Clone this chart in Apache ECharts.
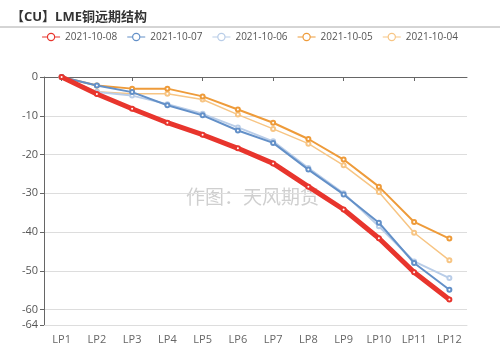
<!DOCTYPE html>
<html><head><meta charset="utf-8">
<script src="https://cdn.jsdelivr.net/npm/echarts@6/dist/echarts.min.js"></script>
<style>html,body{margin:0;padding:0;background:#fff}#c{width:500px;height:347px}</style>
</head><body><div id="c"></div>
<script>
var categories = ['LP1','LP2','LP3','LP4','LP5','LP6','LP7','LP8','LP9','LP10','LP11','LP12'];
var seriesNames = ['2021-10-08','2021-10-07','2021-10-06','2021-10-05','2021-10-04'];
var s1008 = [0, -4.4, -8.2, -11.8, -14.9, -18.4, -22.3, -28.3, -34.2, -41.6, -50.4, -57.4];
var s1007 = [0, -2.2, -3.9, -7.3, -9.9, -13.8, -17.0, -23.9, -30.3, -37.6, -48.0, -54.9];
var s1006 = [0, -3.9, -4.8, -7.0, -9.5, -13.0, -16.6, -23.5, -30.0, -38.5, -47.6, -51.9];
var s1005 = [0, -2.2, -3.0, -3.0, -5.0, -8.4, -11.8, -16.0, -21.3, -28.3, -37.4, -41.7];
var s1004 = [0, -3.8, -4.3, -4.3, -5.8, -9.7, -13.4, -17.2, -22.8, -29.7, -40.2, -47.3];
var yMin = -64, yMax = 0;

var colors = ['#e8352d','#6390c8','#b9cde8','#ee9b3a','#f7c584'];
var widths = [5, 2, 2, 2, 1.5];
var dataSets = [s1008, s1007, s1006, s1005, s1004];
var font = "'Open Sans','Noto Sans CJK SC',sans-serif";
var legendIcon = 'path://M0,4.4H5.6V5.6H0Z M12.4,4.4H18V5.6H12.4Z M9,0.8A4.2,4.2 0 1,1 8.99,0.8Z M9,2A3,3 0 1,0 9.01,2Z';

var series = dataSets.map(function(d, i){
  return {
    name: seriesNames[i], type: 'line', data: d, xAxisIndex: 0,
    symbol: 'emptyCircle', symbolSize: 4, showSymbol: true,
    lineStyle: {color: colors[i], width: widths[i]},
    itemStyle: {color: colors[i], borderWidth: 1},
    z: 10 - i
  };
});

var chart = echarts.init(document.getElementById('c'), null, {renderer:'canvas'});
chart.setOption({
  animation: false,
  color: colors,
  textStyle: {fontFamily: font},
  title: {text: '【CU】LME铜远期结构', left: 6, top: 6,
    textStyle: {fontSize: 13, fontWeight: 'bold', color: '#333', fontFamily: font}},
  graphic: [
    {type: 'line', shape: {x1: 0, y1: 27, x2: 500, y2: 27}, style: {stroke: '#aaa', lineWidth: 1}},
    {type: 'text', left: 186, top: 187, z: 0, silent: true,
     style: {text: '作图：天风期货', font: '19px "Noto Sans CJK SC"', fill: 'rgba(160,160,160,0.5)'}}
  ],
  legend: {data: seriesNames.map(function(n, i){
      return {name: n, icon: legendIcon, itemStyle: {color: colors[i], borderWidth: 0}};
    }),
    top: 27, left: 'center', itemWidth: 18, itemHeight: 10, itemGap: 10,
    textStyle: {fontSize: 10, color: '#555', fontFamily: font}},
  grid: {left: 44, right: 33, top: 77, bottom: 22, containLabel: false},
  xAxis: [
    {type: 'category', data: categories, position: 'bottom', boundaryGap: true,
     axisLine: {onZero: false, lineStyle: {color: '#ddd'}},
     axisTick: {show: false},
     axisLabel: {color: '#666', fontSize: 11, margin: 9, fontFamily: font}},
    {type: 'category', data: categories, position: 'top', boundaryGap: true,
     axisLine: {show: true, lineStyle: {color: '#666', width: 1}},
     axisTick: {show: true, alignWithLabel: true, inside: true, length: 4, lineStyle: {color: '#666'}},
     axisLabel: {show: false}}
  ],
  yAxis: {type: 'value', min: yMin, max: yMax,
    axisLine: {show: true, lineStyle: {color: '#666'}},
    axisTick: {show: true, length: 4},
    axisLabel: {color: '#555', fontSize: 11, margin: 6, fontFamily: font},
    splitLine: {lineStyle: {color: '#ddd'}}},
  series: series
});
</script></body></html>
